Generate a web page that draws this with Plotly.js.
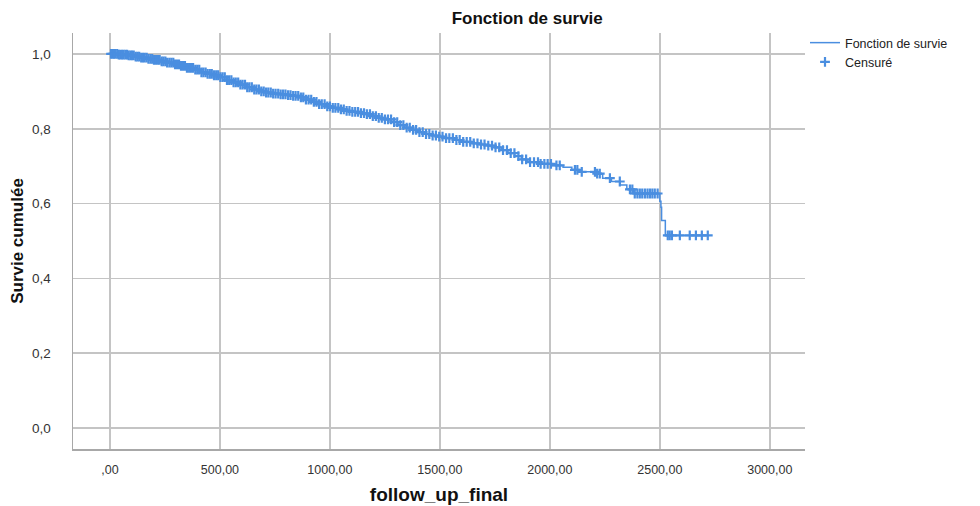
<!DOCTYPE html>
<html>
<head>
<meta charset="utf-8">
<script src="https://cdn.plot.ly/plotly-3.0.1.min.js"></script>
<style>html,body{margin:0;padding:0;background:#fff;}#chart{width:980px;height:506px;}</style>
</head>
<body>
<div id="chart"></div>
<script>
// Step points of the Kaplan-Meier curve (time, cumulative survival)
const stepTimes = [0,40,80,110,140,170,200,230,260,290,320,350,380,410,440,470,500,530,560,590,620,650,680,710,740,770,800,830,860,890,920,950,980,1010,1040,1070,1100,1130,1160,1190,1220,1250,1280,1310,1340,1370,1400,1430,1460,1490,1520,1560,1600,1640,1680,1720,1750,1780,1810,1840,1870,1900,1950,2010,2060,2100,2140,2210,2240,2280,2320,2350,2380,2500,2505,2508,2525,2718];
const stepSurv  = [1.000,0.998,0.996,0.993,0.990,0.987,0.984,0.980,0.977,0.972,0.968,0.963,0.958,0.951,0.947,0.943,0.938,0.930,0.924,0.918,0.911,0.905,0.900,0.897,0.894,0.892,0.890,0.888,0.884,0.878,0.872,0.866,0.860,0.856,0.852,0.848,0.845,0.842,0.839,0.834,0.829,0.825,0.818,0.810,0.803,0.797,0.791,0.786,0.782,0.779,0.775,0.770,0.765,0.761,0.758,0.755,0.750,0.743,0.735,0.727,0.718,0.711,0.706,0.702,0.697,0.690,0.685,0.680,0.668,0.659,0.650,0.638,0.627,0.606,0.590,0.555,0.515,0.515];

// Censored observation times
const censorTimes = [5,12,18,25,33,40,47,55,62,70,78,85,93,100,108,117,125,133,142,150,158,167,175,184,192,200,209,218,226,235,243,252,260,270,279,288,296,305,314,323,332,341,350,360,369,378,388,397,406,416,425,435,444,454,463,473,483,492,502,512,522,532,542,552,562,572,583,593,603,614,624,634,645,656,666,677,688,699,710,720,731,742,753,765,776,787,798,810,821,833,844,856,868,879,891,903,915,927,939,951,963,976,988,1000,1013,1025,1038,1050,1063,1076,1089,1102,1115,1128,1141,1155,1168,1182,1195,1209,1222,1236,1250,1264,1278,1292,1306,1320,1334,1349,1363,1378,1392,1407,1422,1437,1452,1467,1482,1497,1512,1528,1543,1559,1575,1590,1606,1622,1638,1654,1671,1687,1703,1720,1737,1753,1770,1787,1805,1822,1839,1857,1874,1892,1910,1928,1946,1958,1975,1990,2005,2030,2045,2114,2125,2145,2205,2215,2227,2273,2318,2364,2375,2386,2398,2409,2420,2432,2444,2455,2466,2477,2490,2536,2545,2555,2591,2636,2664,2691,2718];

const xTickVals = [0,500,1000,1500,2000,2500,3000];
const xTickText = [',00','500,00','1000,00','1500,00','2000,00','2500,00','3000,00'];
const yTickVals = [0,0.2,0.4,0.6,0.8,1.0];
const yTickText = ['0,0','0,2','0,4','0,6','0,8','1,0'];

function survAt(t){
  let s = stepSurv[0];
  for (let i=0;i<stepTimes.length;i++){ if (stepTimes[i] <= t) s = stepSurv[i]; else break; }
  return s;
}
const censorSurv = censorTimes.map(survAt);

const blue = '#4a8ee0';
const traces = [
  {x: stepTimes, y: stepSurv, mode:'lines', line:{shape:'hv', color: blue, width:1.5}, name:'Fonction de survie', hoverinfo:'skip'},
  {x: censorTimes, y: censorSurv, mode:'markers', marker:{symbol:'cross-thin', size:7, line:{color: blue, width:2.2}, color: blue}, name:'Censuré', hoverinfo:'skip'}
];

const gridC = '#c4c4c4';
const layout = {
  width:980, height:506,
  margin:{l:73, r:175, t:33, b:57},
  paper_bgcolor:'#fff', plot_bgcolor:'#fff',
  font:{family:'Liberation Sans, Arial, sans-serif', color:'#222', size:12},
  title:{text:'<b>Fonction de survie</b>', font:{size:17, color:'#111'}, x:0.538, xanchor:'center', y:0.964, yanchor:'middle', xref:'container', yref:'container'},
  showlegend:true,
  legend:{x:1.0, xanchor:'left', y:1.012, yanchor:'top', font:{size:12.5, color:'#222'}, tracegroupgap:0, itemwidth:30, bgcolor:'rgba(0,0,0,0)'},
  xaxis:{range:[-168,3160], tickvals:xTickVals, ticktext:xTickText, showgrid:true, gridcolor:gridC, gridwidth:1.5, zeroline:false,
         showline:true, linecolor:'#a8a8a8', linewidth:1.5, ticks:'', ticklabelstandoff:8, tickfont:{size:12.5, color:'#333'},
         title:{text:'<b>follow_up_final</b>', font:{size:19, color:'#111'}, standoff:12}},
  yaxis:{range:[-0.056,1.056], tickvals:yTickVals, ticktext:yTickText, showgrid:true, gridcolor:gridC, gridwidth:1.5, zeroline:false,
         showline:true, linecolor:'#a8a8a8', linewidth:1.5, ticks:'', ticklabelstandoff:18, tickfont:{size:13.5, color:'#333'},
         title:{text:'<b>Survie cumulée</b>', font:{size:17, color:'#111'}, standoff:4}}
};
Plotly.newPlot('chart', traces, layout, {displayModeBar:false, staticPlot:true});
</script>
</body>
</html>
